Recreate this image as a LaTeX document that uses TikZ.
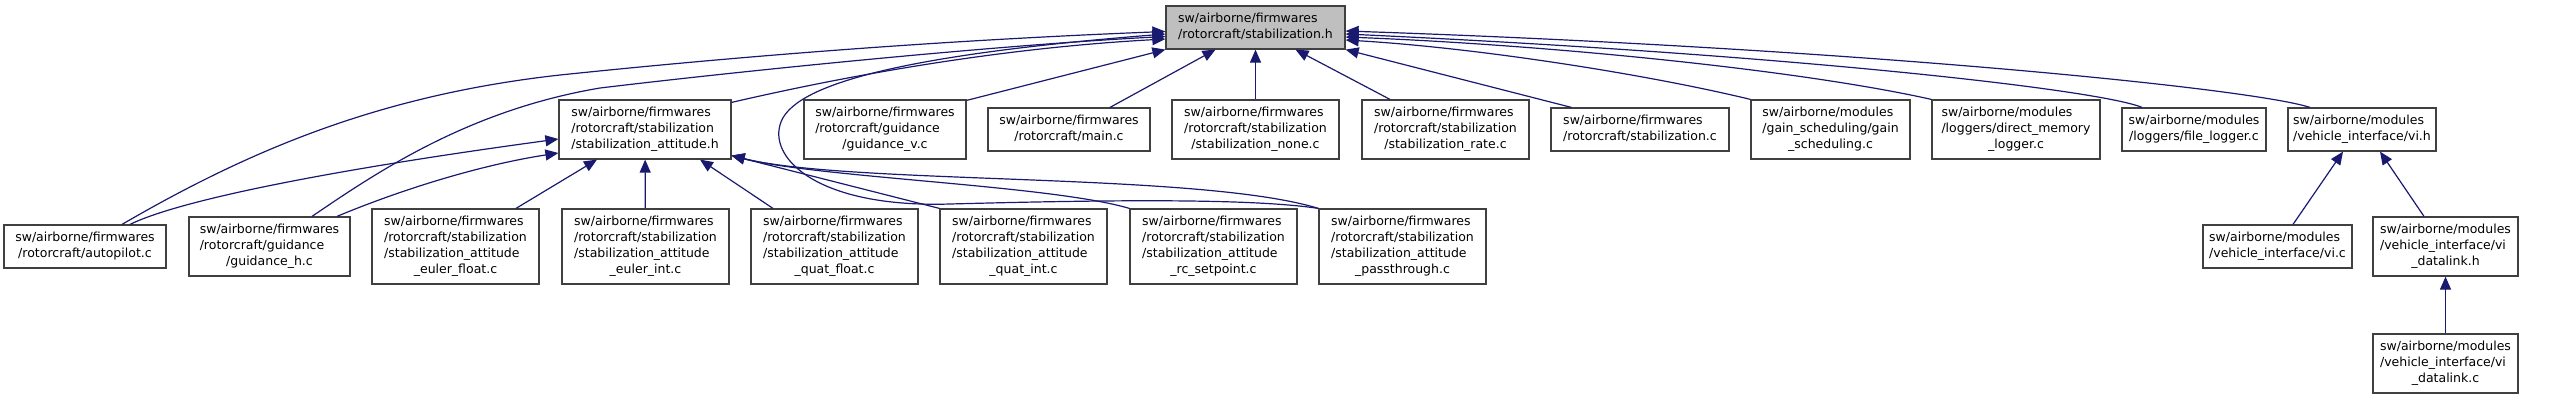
\documentclass[tikz,border=0pt]{standalone}
\usepackage{fontspec}
\setmainfont{DejaVu Sans}
\usetikzlibrary{arrows.meta}

\definecolor{edgeblue}{HTML}{191970}
\definecolor{boxline}{HTML}{404040}
\definecolor{headfill}{HTML}{BFBFBF}
\newcommand{\fname}[1]{\begin{tabular}{@{}l@{}}#1\end{tabular}}
\newcommand{\lastrow}[1]{\multicolumn{1}{@{}c@{}}{#1}}

\begin{document}
\begin{tikzpicture}[x=1pt, y=-1pt,
  file/.style={draw=boxline, line width=1.2pt, fill=white, inner sep=0pt,
               font=\fontsize{12.5}{16}\selectfont},
  two/.style={file, minimum height=43pt},
  three/.style={file, minimum height=59pt},
  four/.style={file, minimum height=75pt},
  inc/.style={draw=edgeblue, line width=1.2pt, -{Triangle[length=13pt, width=11pt]}}
]
  \useasboundingbox (0,0) rectangle (2560,400);

  % The header itself
  \node[two, fill=headfill, minimum width=179pt] (stabh) at (1255.5,27.5) {\fname{sw/airborne/firmwares\\\lastrow{/rotorcraft/stabilization.h}}};

  % Row 1: direct includers
  \node[three, minimum width=172pt] (stabatth) at (645,129.5) {\fname{sw/airborne/firmwares\\/rotorcraft/stabilization\\\lastrow{/stabilization\_attitude.h}}};
  \node[three, minimum width=162pt] (guidv) at (885,129.5) {\fname{sw/airborne/firmwares\\/rotorcraft/guidance\\\lastrow{/guidance\_v.c}}};
  \node[two, minimum width=162pt] (mainc) at (1069,129.5) {\fname{sw/airborne/firmwares\\\lastrow{/rotorcraft/main.c}}};
  \node[three, minimum width=167pt] (stabnone) at (1255.5,129.5) {\fname{sw/airborne/firmwares\\/rotorcraft/stabilization\\\lastrow{/stabilization\_none.c}}};
  \node[three, minimum width=167pt] (stabrate) at (1445.5,129.5) {\fname{sw/airborne/firmwares\\/rotorcraft/stabilization\\\lastrow{/stabilization\_rate.c}}};
  \node[two, minimum width=178pt] (stabc) at (1640,129.5) {\fname{sw/airborne/firmwares\\\lastrow{/rotorcraft/stabilization.c}}};
  \node[three, minimum width=159pt] (gainsched) at (1830.5,129.5) {\fname{sw/airborne/modules\\/gain\_scheduling/gain\\\lastrow{\_scheduling.c}}};
  \node[three, minimum width=168pt] (dmlogger) at (2016,129.5) {\fname{sw/airborne/modules\\/loggers/direct\_memory\\\lastrow{\_logger.c}}};
  \node[two, minimum width=144pt] (filelogger) at (2194,129.5) {\fname{sw/airborne/modules\\\lastrow{/loggers/file\_logger.c}}};
  \node[two, minimum width=148pt] (vih) at (2362,129.5) {\fname{sw/airborne/modules\\\lastrow{/vehicle\_interface/vi.h}}};

  % Row 2
  \node[two, minimum width=162pt] (autopilot) at (85,246.5) {\fname{sw/airborne/firmwares\\\lastrow{/rotorcraft/autopilot.c}}};
  \node[three, minimum width=161pt] (guidh) at (269.5,246.5) {\fname{sw/airborne/firmwares\\/rotorcraft/guidance\\\lastrow{/guidance\_h.c}}};
  \node[four, minimum width=167pt] (eulerf) at (455.5,246.5) {\fname{sw/airborne/firmwares\\/rotorcraft/stabilization\\/stabilization\_attitude\\\lastrow{\_euler\_float.c}}};
  \node[four, minimum width=167pt] (euleri) at (645.5,246.5) {\fname{sw/airborne/firmwares\\/rotorcraft/stabilization\\/stabilization\_attitude\\\lastrow{\_euler\_int.c}}};
  \node[four, minimum width=167pt] (quatf) at (834.5,246.5) {\fname{sw/airborne/firmwares\\/rotorcraft/stabilization\\/stabilization\_attitude\\\lastrow{\_quat\_float.c}}};
  \node[four, minimum width=167pt] (quati) at (1023.5,246.5) {\fname{sw/airborne/firmwares\\/rotorcraft/stabilization\\/stabilization\_attitude\\\lastrow{\_quat\_int.c}}};
  \node[four, minimum width=167pt] (rcset) at (1213.5,246.5) {\fname{sw/airborne/firmwares\\/rotorcraft/stabilization\\/stabilization\_attitude\\\lastrow{\_rc\_setpoint.c}}};
  \node[four, minimum width=167pt] (passthru) at (1402.5,246.5) {\fname{sw/airborne/firmwares\\/rotorcraft/stabilization\\/stabilization\_attitude\\\lastrow{\_passthrough.c}}};
  \node[two, minimum width=149pt] (vic) at (2277.5,246.5) {\fname{sw/airborne/modules\\\lastrow{/vehicle\_interface/vi.c}}};
  \node[three, minimum width=145pt] (vidlh) at (2445.5,246.5) {\fname{sw/airborne/modules\\/vehicle\_interface/vi\\\lastrow{\_datalink.h}}};

  % Row 3
  \node[three, minimum width=145pt] (vidlc) at (2445.5,363.5) {\fname{sw/airborne/modules\\/vehicle\_interface/vi\\\lastrow{\_datalink.c}}};

  % Includes of stabilization.h
  \draw[inc] ([xshift=37pt]autopilot.north) .. controls (250,150) and (380,95) .. (560,75) .. controls (800,50) and (1000,38) .. ([yshift=-4pt]stabh.west);
  \draw[inc] ([xshift=42.5pt]guidh.north) .. controls (380,170) and (470,110) .. (600,88) .. controls (750,70) and (1000,45) .. ([yshift=-9pt]stabh.west);
  \draw[inc] ([yshift=-3pt]stabatth.north east) .. controls (850,75) and (1000,48) .. ([yshift=-11.5pt]stabh.west);
  \draw[inc] (passthru.north west) .. controls (1250,198) and (1100,200) .. (950,204) .. controls (820,208) and (770,160) .. (780,125) .. controls (790,85) and (900,55) .. ([yshift=-6.5pt]stabh.west);
  \draw[inc] ([yshift=-1pt]guidv.north east) -- (stabh.south west);
  \draw[inc] ([xshift=41pt]mainc.north) -- ([xshift=-40pt]stabh.south);
  \draw[inc] (stabnone) -- (stabh);
  \draw[inc] ([xshift=-55.5pt]stabrate.north) -- ([xshift=40pt]stabh.south);
  \draw[inc] ([xshift=21pt]stabc.north west) -- (stabh.south east);
  \draw[inc] (gainsched.north west) .. controls (1650,75) and (1480,48) .. ([yshift=-12.5pt]stabh.east);
  \draw[inc] (dmlogger.north west) .. controls (1800,70) and (1550,45) .. ([yshift=-9.5pt]stabh.east);
  \draw[inc] ([xshift=-52pt]filelogger.north) .. controls (2100,90) and (1800,55) .. ([yshift=-6.5pt]stabh.east);
  \draw[inc] ([xshift=-52pt]vih.north) .. controls (2250,88) and (1850,48) .. ([yshift=-3.5pt]stabh.east);

  % Includes of stabilization_attitude.h
  \draw[inc] ([xshift=45pt]autopilot.north) .. controls (180,200) and (330,170) .. ([yshift=-9.5pt]stabatth.west);
  \draw[inc] ([xshift=67.5pt]guidh.north) .. controls (400,190) and (480,165) .. ([yshift=-23.5pt]stabatth.west);
  \draw[inc] ([xshift=60.5pt]eulerf.north) -- ([xshift=-48pt]stabatth.south);
  \draw[inc] (euleri) -- (stabatth);
  \draw[inc] ([xshift=-61.5pt]quatf.north) -- ([xshift=55pt]stabatth.south);
  \draw[inc] (quati.north west) -- ([yshift=4pt]stabatth.south east);
  \draw[inc] (rcset.north west) .. controls (1050,185) and (820,178) .. ([yshift=4pt]stabatth.south east);
  \draw[inc] (passthru.north west) .. controls (1200,172) and (850,185) .. ([yshift=4pt]stabatth.south east);

  % Vehicle interface
  \draw[inc] ([xshift=15.5pt]vic.north) -- ([xshift=-19pt]vih.south);
  \draw[inc] ([xshift=-21.5pt]vidlh.north) -- ([xshift=18pt]vih.south);
  \draw[inc] (vidlc) -- (vidlh);
\end{tikzpicture}
\end{document}
